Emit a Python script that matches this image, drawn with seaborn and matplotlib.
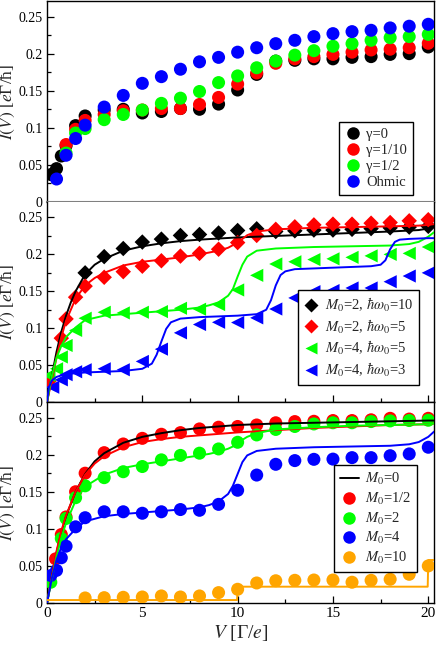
import numpy as np
import pandas as pd
import seaborn as sns
import matplotlib
matplotlib.use("Agg")
import matplotlib.pyplot as plt
from matplotlib.ticker import MultipleLocator, FuncFormatter
from matplotlib.lines import Line2D

# ---------------- data ----------------
VG = [3, 4, 5, 6, 7, 8, 9, 10, 11, 12, 13, 14, 15, 16, 17, 18, 19, 20]

# Panel 1 (bath types)
p1_black_V = [0.2, 0.5, 0.75, 1.0, 1.5, 2] + VG
p1_black_I = [0.037, 0.045, 0.062, 0.076, 0.103, 0.116,
              0.124, 0.125, 0.120, 0.122, 0.126, 0.125, 0.132, 0.151, 0.172, 0.190,
              0.191, 0.193, 0.193, 0.195, 0.196, 0.199, 0.200, 0.209]
p1_red_V = [1.0, 1.5, 2] + VG
p1_red_I = [0.0775, 0.098, 0.110,
            0.118, 0.123, 0.124, 0.126, 0.126, 0.1315, 0.141, 0.159, 0.174, 0.187,
            0.193, 0.196, 0.199, 0.202, 0.205, 0.206, 0.208, 0.214]
p1_green_V = [1.0, 1.5, 2] + VG
p1_green_I = [0.066, 0.093, 0.099,
              0.111, 0.118, 0.124, 0.133, 0.140, 0.149, 0.161, 0.170, 0.181, 0.190,
              0.198, 0.204, 0.210, 0.2135, 0.218, 0.2216, 0.223, 0.226]
p1_blue_V = [0.5, 1.0, 1.5, 2] + VG
p1_blue_I = [0.031, 0.063, 0.0856, 0.1036,
             0.128, 0.1437, 0.160, 0.169, 0.179, 0.189, 0.195, 0.202, 0.208, 0.2135,
             0.218, 0.223, 0.227, 0.2297, 0.2315, 0.2347, 0.237, 0.2396]

# Panel 2 (points)
p2_black_V = [2] + VG
p2_black_I = [0.175, 0.197, 0.208, 0.2167, 0.2207, 0.2257, 0.227, 0.229, 0.2324, 0.2347,
              0.231, 0.232, 0.233, 0.233, 0.234, 0.235, 0.236, 0.237, 0.238]
p2_red_V = [0.1, 0.75, 1.0, 1.5, 2] + VG
p2_red_I = [0.028, 0.0865, 0.1126, 0.142, 0.157,
            0.169, 0.1766, 0.184, 0.1914, 0.1977, 0.2014, 0.207, 0.216, 0.2257, 0.234,
            0.2374, 0.240, 0.241, 0.241, 0.2423, 0.2432, 0.2455, 0.247]
p2_green_V = [0.1, 0.5, 0.75, 1.0, 1.5, 2] + VG
p2_green_I = [0.036, 0.045, 0.061, 0.0766, 0.097, 0.1135,
              0.1216, 0.1207, 0.1216, 0.1225, 0.127, 0.1257, 0.132, 0.1518, 0.1716, 0.187,
              0.190, 0.193, 0.194, 0.196, 0.198, 0.200, 0.2014, 0.210]
p2_blue_V = [0.3, 0.75, 1.0, 1.5, 2] + VG
p2_blue_I = [0.020, 0.030, 0.037, 0.041, 0.0437,
             0.045, 0.0437, 0.055, 0.0716, 0.0937, 0.105, 0.108, 0.1077, 0.114, 0.126,
             0.141, 0.1495, 0.151, 0.1545, 0.1545, 0.163, 0.1707, 0.175]

# Panel 2 (theory lines)
l2_black_V = [0, 0.25, 0.5, 0.75, 1, 1.25, 1.5, 2, 2.5, 3, 4, 5, 6, 7, 8, 10, 12, 15, 18, 19.5, 20, 20.3]
l2_black_I = [0, 0.035, 0.068, 0.095, 0.117, 0.135, 0.150, 0.173, 0.186, 0.194, 0.205, 0.211,
              0.215, 0.218, 0.220, 0.223, 0.225, 0.228, 0.231, 0.233, 0.235, 0.238]
l2_red_V = [0, 0.25, 0.5, 0.75, 1, 1.5, 2, 2.5, 3, 4, 5, 6, 7, 8, 9, 9.5, 10, 10.5, 11, 12,
            14, 16, 18, 19.5, 20, 20.3]
l2_red_I = [0, 0.03, 0.06, 0.088, 0.110, 0.140, 0.158, 0.168, 0.175, 0.185, 0.190, 0.193,
            0.196, 0.200, 0.205, 0.209, 0.216, 0.226, 0.231, 0.234, 0.236, 0.237, 0.238,
            0.239, 0.240, 0.241]
l2_green_V = [0, 0.25, 0.5, 0.75, 1, 1.5, 2, 3, 4, 5, 6, 7, 8, 8.5, 9, 9.5, 9.75, 10, 10.25,
              10.5, 11, 12, 14, 16, 18, 19, 19.5, 20, 20.3]
l2_green_I = [0, 0.035, 0.060, 0.076, 0.088, 0.101, 0.111, 0.117, 0.119, 0.121, 0.123, 0.125,
              0.128, 0.131, 0.135, 0.144, 0.153, 0.170, 0.186, 0.197, 0.205, 0.208, 0.210,
              0.211, 0.212, 0.214, 0.217, 0.224, 0.230]
l2_blue_V = [0, 0.1, 0.25, 0.5, 1, 2, 3, 4, 5, 5.5, 5.75, 6, 6.25, 6.5, 7, 8, 9, 10, 11, 11.5,
             11.75, 12, 12.25, 12.5, 13, 15, 17, 17.5, 17.75, 18, 18.25, 18.5, 19, 20, 20.3]
l2_blue_I = [0, 0.02, 0.029, 0.034, 0.038, 0.040, 0.041, 0.042, 0.045, 0.052, 0.064, 0.082,
             0.099, 0.108, 0.113, 0.115, 0.116, 0.117, 0.119, 0.125, 0.138, 0.158, 0.172,
             0.177, 0.180, 0.182, 0.184, 0.186, 0.192, 0.207, 0.217, 0.220, 0.221, 0.222, 0.222]

# Panel 3 (points)
p3_red_V = [0.45, 0.75, 1.0, 1.5, 2] + VG
p3_red_I = [0.0595, 0.0923, 0.116, 0.150, 0.175,
            0.2027, 0.2144, 0.222, 0.2275, 0.2297, 0.2347, 0.237, 0.238, 0.240, 0.243,
            0.2446, 0.245, 0.246, 0.246, 0.247, 0.249, 0.248, 0.249]
p3_green_V = [0.2, 0.75, 1.0, 1.5, 2] + VG
p3_green_I = [0.028, 0.087, 0.114, 0.142, 0.158,
              0.169, 0.177, 0.184, 0.193, 0.199, 0.202, 0.2077, 0.2167, 0.2266, 0.234,
              0.238, 0.2414, 0.243, 0.243, 0.2446, 0.2455, 0.246, 0.2464]
p3_blue_V = [0.2, 0.5, 0.75, 1.0, 1.5, 2] + VG
p3_blue_I = [0.037, 0.044, 0.061, 0.0766, 0.1027, 0.115,
             0.123, 0.123, 0.121, 0.123, 0.126, 0.125, 0.133, 0.152, 0.1725, 0.187,
             0.192, 0.1937, 0.194, 0.196, 0.196, 0.1986, 0.201, 0.210]
p3_orange_V = [2] + VG
p3_orange_I = [0.0068, 0.0072, 0.0077, 0.0081, 0.0095, 0.0081, 0.0095, 0.014, 0.0185, 0.027,
               0.030, 0.0306, 0.031, 0.031, 0.028, 0.0306, 0.032, 0.0387, 0.050]

# Panel 3 (theory lines)
l3_V = [0, 0.25, 0.5, 0.75, 1, 1.5, 2, 2.5, 3, 4, 5, 6, 7, 8, 9, 10, 12, 14, 16, 18, 20, 20.3]
l3_black_I = [0, 0.035, 0.068, 0.095, 0.117, 0.150, 0.174, 0.191, 0.202, 0.216, 0.224, 0.229,
              0.233, 0.236, 0.238, 0.240, 0.242, 0.243, 0.244, 0.245, 0.246, 0.246]
l3_red_I = [0, 0.035, 0.070, 0.097, 0.118, 0.150, 0.173, 0.188, 0.198, 0.210, 0.217, 0.221,
            0.224, 0.226, 0.228, 0.230, 0.233, 0.236, 0.238, 0.240, 0.241, 0.242]
l3_green_V = [0, 0.25, 0.5, 0.75, 1, 1.5, 2, 3, 4, 5, 6, 7, 8, 8.5, 9, 9.5, 9.75, 10, 10.25,
              10.5, 11, 12, 14, 16, 18, 20, 20.3]
l3_green_I = [0, 0.032, 0.062, 0.088, 0.108, 0.138, 0.157, 0.173, 0.182, 0.187, 0.191, 0.195,
              0.199, 0.201, 0.204, 0.208, 0.211, 0.215, 0.220, 0.224, 0.229, 0.234, 0.237,
              0.239, 0.240, 0.241, 0.242]
l3_blue_V = [0, 0.25, 0.5, 0.75, 1, 1.5, 2, 3, 4, 5, 6, 7, 8, 8.5, 9, 9.5, 9.75, 10, 10.25,
             10.5, 11, 12, 14, 16, 18, 19, 19.5, 20, 20.3]
l3_blue_I = [0, 0.033, 0.058, 0.075, 0.086, 0.100, 0.110, 0.117, 0.120, 0.122, 0.124, 0.126,
             0.129, 0.132, 0.137, 0.147, 0.158, 0.174, 0.190, 0.199, 0.205, 0.208, 0.210,
             0.211, 0.212, 0.214, 0.217, 0.224, 0.231]
l3_orange_V = [0, 9.97, 10.0, 19.97, 20.0, 20.3]
l3_orange_I = [0.004, 0.004, 0.022, 0.022, 0.058, 0.058]

# labels
legend1 = ["γ=0", "γ=1/10", "γ=1/2", "Ohmic"]
legend2 = [r"$M_0$=2, $\hbar\omega_0$=10", r"$M_0$=2, $\hbar\omega_0$=5",
           r"$M_0$=4, $\hbar\omega_0$=5", r"$M_0$=4, $\hbar\omega_0$=3"]
legend3 = [r"$M_0$=0", r"$M_0$=1/2", r"$M_0$=2", r"$M_0$=4", r"$M_0$=10"]
ylabel = r"$I(V)$ [$e$Γ/ħ]"
xlabel = r"$V$ [Γ/$e$]"
yticks = [0, 0.05, 0.1, 0.15, 0.2, 0.25]
xticks = [0, 5, 10, 15, 20]

BLACK, RED, GREEN, BLUE, ORANGE = "#000000", "#ff0000", "#00ff00", "#0000ff", "#ffa500"

# ---------------- style ----------------
sns.set_theme(style="ticks")
plt.rcParams["font.family"] = ["Liberation Serif", "DejaVu Serif"]
plt.rcParams["mathtext.fontset"] = "stix"
plt.rcParams["axes.linewidth"] = 1.0
plt.rcParams["axes.edgecolor"] = "black"

fig = plt.figure(figsize=(4.36, 6.49), dpi=100)
L, W = 47 / 436, 387 / 436
def ax_at(top_px, bot_px):
    return fig.add_axes([L, (649 - bot_px) / 649, W, (bot_px - top_px) / 649])

ax1 = ax_at(1, 202)
ax2 = ax_at(202, 402)
ax3 = ax_at(402, 603)

S_CIRC = 88
S_DIAM = 62
S_TRI = 90

def pts(ax, V, I, color, marker, s, label, z=3):
    df = pd.DataFrame({"V": V, "I": I})
    sns.scatterplot(data=df, x="V", y="I", color=color, marker=marker, s=s,
                    edgecolor="none", linewidth=0, ax=ax, label=label, zorder=z,
                    legend=False)

def line(ax, V, I, color, label=None, lw=1.4, z=4):
    df = pd.DataFrame({"V": V, "I": I})
    sns.lineplot(data=df, x="V", y="I", color=color, lw=lw, ax=ax, estimator=None,
                 sort=False, label=label, zorder=z, legend=False)

# Panel 1
pts(ax1, p1_black_V, p1_black_I, BLACK, "o", S_CIRC, legend1[0])
pts(ax1, p1_red_V, p1_red_I, RED, "o", S_CIRC, legend1[1])
pts(ax1, p1_green_V, p1_green_I, GREEN, "o", S_CIRC, legend1[2])
pts(ax1, p1_blue_V, p1_blue_I, BLUE, "o", S_CIRC, legend1[3])

# Panel 2
pts(ax2, p2_black_V, p2_black_I, BLACK, "D", S_DIAM, legend2[0])
pts(ax2, p2_red_V, p2_red_I, RED, "D", S_DIAM, legend2[1])
pts(ax2, p2_green_V, p2_green_I, GREEN, "<", S_TRI, legend2[2])
pts(ax2, p2_blue_V, p2_blue_I, BLUE, "<", S_TRI, legend2[3])
line(ax2, l2_black_V, l2_black_I, BLACK)
line(ax2, l2_red_V, l2_red_I, RED)
line(ax2, l2_green_V, l2_green_I, GREEN)
line(ax2, l2_blue_V, l2_blue_I, BLUE)

# Panel 3
pts(ax3, p3_red_V, p3_red_I, RED, "o", S_CIRC, legend3[1])
pts(ax3, p3_green_V, p3_green_I, GREEN, "o", S_CIRC, legend3[2])
pts(ax3, p3_blue_V, p3_blue_I, BLUE, "o", S_CIRC, legend3[3])
pts(ax3, p3_orange_V, p3_orange_I, ORANGE, "o", S_CIRC, legend3[4])
line(ax3, l3_V, l3_black_I, BLACK)
line(ax3, l3_V, l3_red_I, RED)
line(ax3, l3_green_V, l3_green_I, GREEN)
line(ax3, l3_blue_V, l3_blue_I, BLUE)
line(ax3, l3_orange_V, l3_orange_I, ORANGE)

fmt = FuncFormatter(lambda v, p: f"{v:g}")
for ax in (ax1, ax2, ax3):
    ax.set_xlim(0, 20.3)
    ax.set_ylim(0, 0.271)
    ax.set_yticks(yticks)
    ax.yaxis.set_major_formatter(fmt)
    ax.yaxis.set_minor_locator(MultipleLocator(0.025))
    ax.set_xticks(xticks)
    ax.xaxis.set_minor_locator(MultipleLocator(2.5))
    ax.tick_params(which="both", direction="in", top=False, right=False,
                   labelsize=10, colors="black", labelcolor="black", pad=3)
    ax.tick_params(which="major", length=5, width=0.9)
    ax.tick_params(which="minor", length=3, width=0.9)
    ax.set_ylabel(ylabel, fontsize=12.5, labelpad=4)
    ax.yaxis.set_label_coords(-0.078, 0.5)
    ax.set_xlabel("")
    for sp in ax.spines.values():
        sp.set_visible(True)
        sp.set_color("black")
        sp.set_linewidth(1.0)

ax1.tick_params(axis="x", which="both", bottom=False, labelbottom=False)
ax1.spines["bottom"].set_color("#808080")
ax1.spines["bottom"].set_linewidth(1.5)
ax2.spines["top"].set_visible(False)
ax2.tick_params(axis="x", labelbottom=False)
ax3.tick_params(axis="x", labelsize=11)
ax3.set_xlabel(xlabel, fontsize=14, labelpad=2)

# Legends
def mk(color, marker, ms):
    return Line2D([], [], ls="none", marker=marker, color=color, markersize=ms, mec="none")

leg_kw = dict(frameon=True, fancybox=False, framealpha=1, edgecolor="black",
              borderaxespad=0, handletextpad=0.4, borderpad=0.4, fontsize=10.5)

h1 = [mk(c, "o", 9) for c in (BLACK, RED, GREEN, BLUE)]
lg1 = ax1.legend(h1, legend1, loc="lower right", bbox_to_anchor=(0.946, 0.035),
                 handlelength=1.1, labelspacing=0.2, **leg_kw)

h2 = [mk(BLACK, "D", 7), mk(RED, "D", 7), mk(GREEN, "<", 9), mk(BLUE, "<", 9)]
lg2 = ax2.legend(h2, legend2, loc="lower right", bbox_to_anchor=(0.961, 0.085),
                 handlelength=1.0, labelspacing=0.25, **leg_kw)

h3 = [Line2D([], [], color=BLACK, lw=1.4)] + [mk(c, "o", 9) for c in (RED, GREEN, BLUE, ORANGE)]
lg3 = ax3.legend(h3, legend3, loc="lower right", bbox_to_anchor=(0.956, 0.154),
                 handlelength=1.3, labelspacing=0.25, **leg_kw)
for lg in (lg1, lg2, lg3):
    lg.get_frame().set_linewidth(1.0)

fig.savefig("out.png", dpi=100)
